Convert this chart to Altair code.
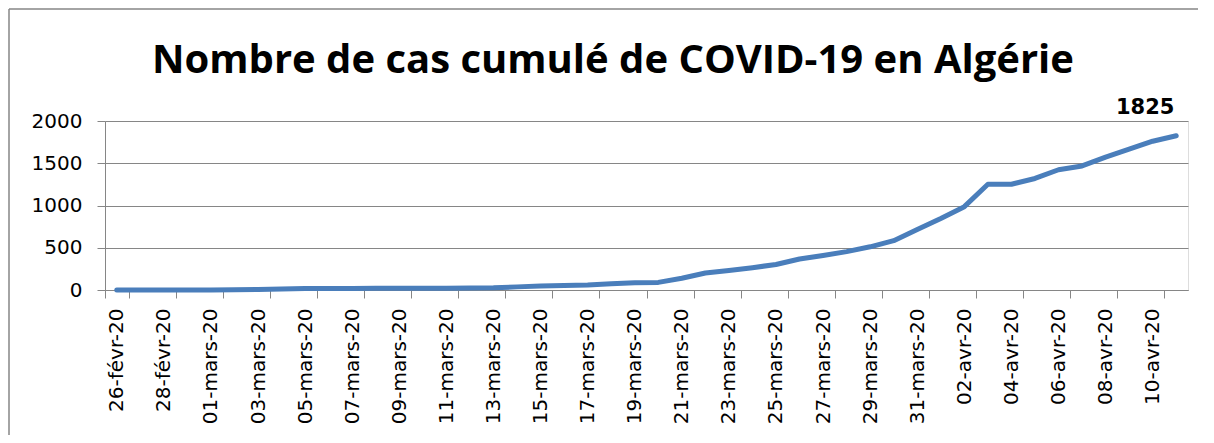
import altair as alt
import pandas as pd

dates = [
    "26-févr-20", "27-févr-20", "28-févr-20", "29-févr-20",
    "01-mars-20", "02-mars-20", "03-mars-20", "04-mars-20", "05-mars-20",
    "06-mars-20", "07-mars-20", "08-mars-20", "09-mars-20", "10-mars-20",
    "11-mars-20", "12-mars-20", "13-mars-20", "14-mars-20", "15-mars-20",
    "16-mars-20", "17-mars-20", "18-mars-20", "19-mars-20", "20-mars-20",
    "21-mars-20", "22-mars-20", "23-mars-20", "24-mars-20", "25-mars-20",
    "26-mars-20", "27-mars-20", "28-mars-20", "29-mars-20", "30-mars-20",
    "31-mars-20", "01-avr-20", "02-avr-20", "03-avr-20", "04-avr-20",
    "05-avr-20", "06-avr-20", "07-avr-20", "08-avr-20", "09-avr-20",
    "10-avr-20", "11-avr-20",
]
cases = [
    1, 1, 1, 1,
    1, 3, 5, 12, 17,
    17, 19, 20, 20, 20,
    20, 24, 26, 37, 48,
    54, 60, 74, 87, 90,
    139, 201, 230, 264, 302,
    367, 409, 454, 511, 584,
    716, 847, 986, 1251, 1251,
    1320, 1423, 1468, 1572, 1666,
    1761, 1825,
]
y_ticks = [0, 500, 1000, 1500, 2000]
title_text = "Nombre de cas cumulé de COVID-19 en Algérie"
last_label = "1825"

df = pd.DataFrame({"date": dates, "cases": cases})

GRID = "#868686"
LINE = "#4A7EBB"
FONT = "DejaVu Sans"

x_enc = alt.X(
    "date:N",
    sort=None,
    scale=alt.Scale(type="band", paddingInner=0, paddingOuter=0),
    axis=alt.Axis(
        title=None,
        values=dates[::2],
        labelAngle=-90,
        tickBand="extent",
        tickSize=8,
        tickColor=GRID,
        domainColor=GRID,
        labelPadding=10,
        labelFont=FONT,
        labelFontSize=20,
        labelColor="#000000",
        grid=False,
    ),
)
y_enc = alt.Y(
    "cases:Q",
    scale=alt.Scale(domain=[0, 2000], nice=False),
    axis=alt.Axis(
        title=None,
        values=y_ticks,
        format="d",
        tickSize=8,
        tickColor=GRID,
        domainColor=GRID,
        gridColor=GRID,
        grid=True,
        labelPadding=15,
        labelFont=FONT,
        labelFontSize=20,
        labelColor="#000000",
    ),
)

base = alt.Chart(df)

line = base.mark_line(color=LINE, strokeWidth=5, strokeCap="round", strokeJoin="round").encode(
    x=x_enc, y=y_enc
)

label = base.transform_filter(
    alt.datum.date == dates[-1]
).mark_text(
    font=FONT, fontSize=21, fontWeight="bold", color="#000000",
    align="center", baseline="alphabetic", dx=-31, dy=-22,
).encode(
    x=alt.X("date:N", sort=None), y="cases:Q", text=alt.value(last_label)
)

title = alt.Chart(df.head(1)).mark_text(
    font="Open Sans", fontSize=40, fontWeight="bold", color="#000000",
    align="center", baseline="alphabetic",
).encode(
    x=alt.value(508), y=alt.value(-48), text=alt.value(title_text)
)

frame_left = alt.Chart(df.head(1)).mark_rule(color=GRID, strokeWidth=1.5).encode(
    x=alt.value(-96), y=alt.value(-112), y2=alt.value(330)
)
frame_top = alt.Chart(df.head(1)).mark_rule(color=GRID, strokeWidth=1.5).encode(
    x=alt.value(-96), x2=alt.value(1110), y=alt.value(-112)
)

chart = alt.layer(frame_left, frame_top, line, label, title).properties(
    width=1083,
    height=169,
    autosize=alt.AutoSizeParams(type="none"),
    padding={"left": 97, "top": 113, "right": 10, "bottom": 145},
).configure_view(stroke=None).configure(background="#ffffff")

chart.save("out.html", embed_options={"renderer": "svg", "actions": False})
